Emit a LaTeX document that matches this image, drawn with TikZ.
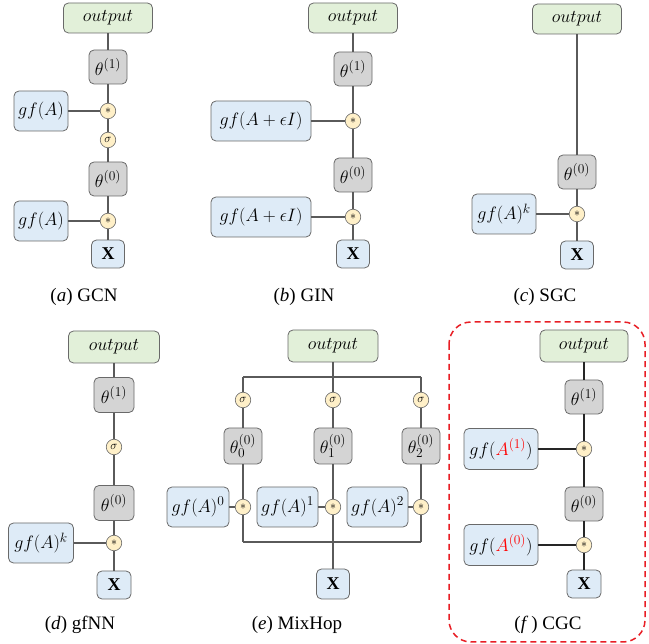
\RequirePackage{fix-cm}
\documentclass[tikz,border=0pt]{standalone}
\usepackage{fontspec}
\setmainfont{Liberation Serif}
\newfontfamily\capfont{Liberation Serif}
\DeclareMathSizes{18}{18}{13.5}{10}
\usepackage{xcolor}
\definecolor{bordergray}{RGB}{105,105,105}
\definecolor{linegray}{RGB}{90,90,90}
\definecolor{outgreen}{RGB}{226,240,217}
\definecolor{thgray}{RGB}{212,212,212}
\definecolor{gfblue}{RGB}{222,235,247}
\definecolor{opyellow}{RGB}{255,240,200}
\definecolor{dashred}{RGB}{232,30,37}
\begin{document}
\begin{tikzpicture}[x=1pt,y=-1pt,
  boxbase/.style={draw=bordergray, line width=0.8pt, rounded corners=5pt, inner sep=0pt, font=\fontsize{18}{20}\selectfont},
  outbox/.style={boxbase, fill=outgreen, minimum width=89pt, minimum height=30pt},
  thbox/.style={boxbase, fill=thgray, minimum width=38pt, minimum height=34pt},
  gfbox/.style={boxbase, fill=gfblue, minimum height=40pt},
  xbox/.style={boxbase, fill=gfblue, minimum width=33pt, minimum height=28pt},
  opnode/.style={circle, draw=bordergray, fill=opyellow, line width=0.6pt, minimum size=15.5pt, inner sep=0pt, font=\fontsize{12}{12}\selectfont},
  conn/.style={draw=linegray, line width=1.2pt},
  connf/.style={draw=black!85, line width=1.7pt},
  captn/.style={font=\capfont\fontsize{19}{21}\selectfont, inner sep=0pt}
]
\useasboundingbox (0,0) rectangle (649,644);

% ---------- (a) GCN ----------
\node[outbox] (oa) at (108,18) {$output$};
\node[thbox] (t1a) at (108,67) {$\theta^{(1)}$};
\node[gfbox, minimum width=54pt] (g1a) at (41,111) {$gf(A)$};
\node[opnode] (m1a) at (108,111) {$\ast$};
\node[opnode] (sa) at (108,140) {$\sigma$};
\node[thbox] (t0a) at (108,179) {$\theta^{(0)}$};
\node[gfbox, minimum width=54pt] (g0a) at (41,221) {$gf(A)$};
\node[opnode] (m0a) at (108,221) {$\ast$};
\node[xbox] (xa) at (108,254) {$\mathbf{X}$};
\node[captn] (ca) at (84,297) {(\textit{a}) GCN};
\draw[conn] (oa) -- (t1a);
\draw[conn] (t1a) -- (m1a);
\draw[conn] (m1a) -- (sa);
\draw[conn] (sa) -- (t0a);
\draw[conn] (t0a) -- (m0a);
\draw[conn] (m0a) -- (xa);
\draw[conn] (g1a) -- (m1a);
\draw[conn] (g0a) -- (m0a);

% ---------- (b) GIN ----------
\node[outbox] (ob) at (353,18) {$output$};
\node[thbox] (t1b) at (353,69) {$\theta^{(1)}$};
\node[gfbox, minimum width=100pt] (g1b) at (261,121) {$gf(A+\epsilon I)$};
\node[opnode] (m1b) at (353,121) {$\ast$};
\node[thbox] (t0b) at (353,175) {$\theta^{(0)}$};
\node[gfbox, minimum width=100pt] (g0b) at (261,217) {$gf(A+\epsilon I)$};
\node[opnode] (m0b) at (353,217) {$\ast$};
\node[xbox] (xb) at (353,254) {$\mathbf{X}$};
\node[captn] (cb) at (304,297) {(\textit{b}) GIN};
\draw[conn] (ob) -- (t1b);
\draw[conn] (t1b) -- (m1b);
\draw[conn] (m1b) -- (t0b);
\draw[conn] (t0b) -- (m0b);
\draw[conn] (m0b) -- (xb);
\draw[conn] (g1b) -- (m1b);
\draw[conn] (g0b) -- (m0b);

% ---------- (c) SGC ----------
\node[outbox] (oc) at (577,19) {$output$};
\node[thbox] (t0c) at (577,172) {$\theta^{(0)}$};
\node[gfbox, minimum width=64pt] (gc) at (504,214) {$gf(A)^k$};
\node[opnode] (mc) at (577,214) {$\ast$};
\node[xbox] (xc) at (577,255) {$\mathbf{X}$};
\node[captn] (cc) at (545,297) {(\textit{c}) SGC};
\draw[conn] (oc) -- (t0c);
\draw[conn] (t0c) -- (mc);
\draw[conn] (mc) -- (xc);
\draw[conn] (gc) -- (mc);

% ---------- (d) gfNN ----------
\node[outbox, minimum width=91pt, minimum height=32pt] (od) at (114,347) {$output$};
\node[thbox, minimum width=40pt, minimum height=35pt] (t1d) at (114,395) {$\theta^{(1)}$};
\node[opnode] (sd) at (114,447) {$\sigma$};
\node[thbox, minimum width=40pt, minimum height=35pt] (t0d) at (114,503) {$\theta^{(0)}$};
\node[gfbox, minimum width=65pt] (gd) at (41,543) {$gf(A)^k$};
\node[opnode] (md) at (114,543) {$\ast$};
\node[xbox, minimum width=34pt] (xd) at (114,585) {$\mathbf{X}$};
\node[captn] (cd) at (80,625) {(\textit{d}) gfNN};
\draw[conn] (od) -- (t1d);
\draw[conn] (t1d) -- (sd);
\draw[conn] (sd) -- (t0d);
\draw[conn] (t0d) -- (md);
\draw[conn] (md) -- (xd);
\draw[conn] (gd) -- (md);

% ---------- (e) MixHop ----------
\node[outbox, minimum width=90pt, minimum height=32pt] (oe) at (333,346) {$output$};
\coordinate (etl) at (243,377);
\coordinate (etc) at (333,377);
\coordinate (etr) at (421,377);
\coordinate (ebl) at (243,542);
\coordinate (ebc) at (333,542);
\coordinate (ebr) at (421,542);
\node[opnode] (s0e) at (243,400) {$\sigma$};
\node[opnode] (s1e) at (333,400) {$\sigma$};
\node[opnode] (s2e) at (421,400) {$\sigma$};
\node[thbox, minimum height=36pt] (t0e) at (243,446) {$\theta_0^{(0)}$};
\node[thbox, minimum height=36pt] (t1e) at (333,446) {$\theta_1^{(0)}$};
\node[thbox, minimum height=36pt] (t2e) at (421,446) {$\theta_2^{(0)}$};
\node[gfbox, minimum width=62pt] (g0e) at (198,507) {$gf(A)^0$};
\node[gfbox, minimum width=61pt] (g1e) at (287.5,507) {$gf(A)^1$};
\node[gfbox, minimum width=61pt] (g2e) at (377.5,507) {$gf(A)^2$};
\node[opnode] (m0e) at (243,507) {$\ast$};
\node[opnode] (m1e) at (333,507) {$\ast$};
\node[opnode] (m2e) at (421,507) {$\ast$};
\node[xbox, minimum height=30pt] (xe) at (333,584) {$\mathbf{X}$};
\node[captn] (ce) at (297,625) {(\textit{e}) MixHop};
\draw[conn] (oe) -- (etc);
\draw[conn] (etl) -- (etr);
\draw[conn] (etl) -- (s0e);
\draw[conn] (etc) -- (s1e);
\draw[conn] (etr) -- (s2e);
\draw[conn] (s0e) -- (t0e);
\draw[conn] (s1e) -- (t1e);
\draw[conn] (s2e) -- (t2e);
\draw[conn] (t0e) -- (m0e);
\draw[conn] (t1e) -- (m1e);
\draw[conn] (t2e) -- (m2e);
\draw[conn] (g0e) -- (m0e);
\draw[conn] (g1e) -- (m1e);
\draw[conn] (g2e) -- (m2e);
\draw[conn] (m0e) -- (ebl);
\draw[conn] (m2e) -- (ebr);
\draw[conn] (ebl) -- (ebr);
\draw[conn] (m1e) -- (xe);

% ---------- (f) CGC ----------
\draw[dashred, line width=1.5pt, dash pattern=on 6pt off 4pt, rounded corners=22pt] (449,322) rectangle (645,642);
\node[outbox, minimum width=88pt, minimum height=32pt] (of) at (584,346) {$output$};
\node[thbox] (t1f) at (584,397) {$\theta^{(1)}$};
\node[gfbox, minimum width=74pt, minimum height=41pt] (g1f) at (501,449) {$gf(\textcolor{red}{A^{(1)}})$};
\node[opnode] (m1f) at (584,449) {$\ast$};
\node[thbox] (t0f) at (584,504) {$\theta^{(0)}$};
\node[gfbox, minimum width=74pt, minimum height=41pt] (g0f) at (501,545) {$gf(\textcolor{red}{A^{(0)}})$};
\node[opnode] (m0f) at (584,545) {$\ast$};
\node[xbox, minimum width=34pt] (xf) at (584,584) {$\mathbf{X}$};
\node[captn] (cf) at (548,625) {(\textit{f}\,) CGC};
\draw[connf] (of) -- (t1f);
\draw[connf] (t1f) -- (m1f);
\draw[connf] (m1f) -- (t0f);
\draw[connf] (t0f) -- (m0f);
\draw[connf] (m0f) -- (xf);
\draw[connf] (g1f) -- (m1f);
\draw[connf] (g0f) -- (m0f);
\end{tikzpicture}
\end{document}
